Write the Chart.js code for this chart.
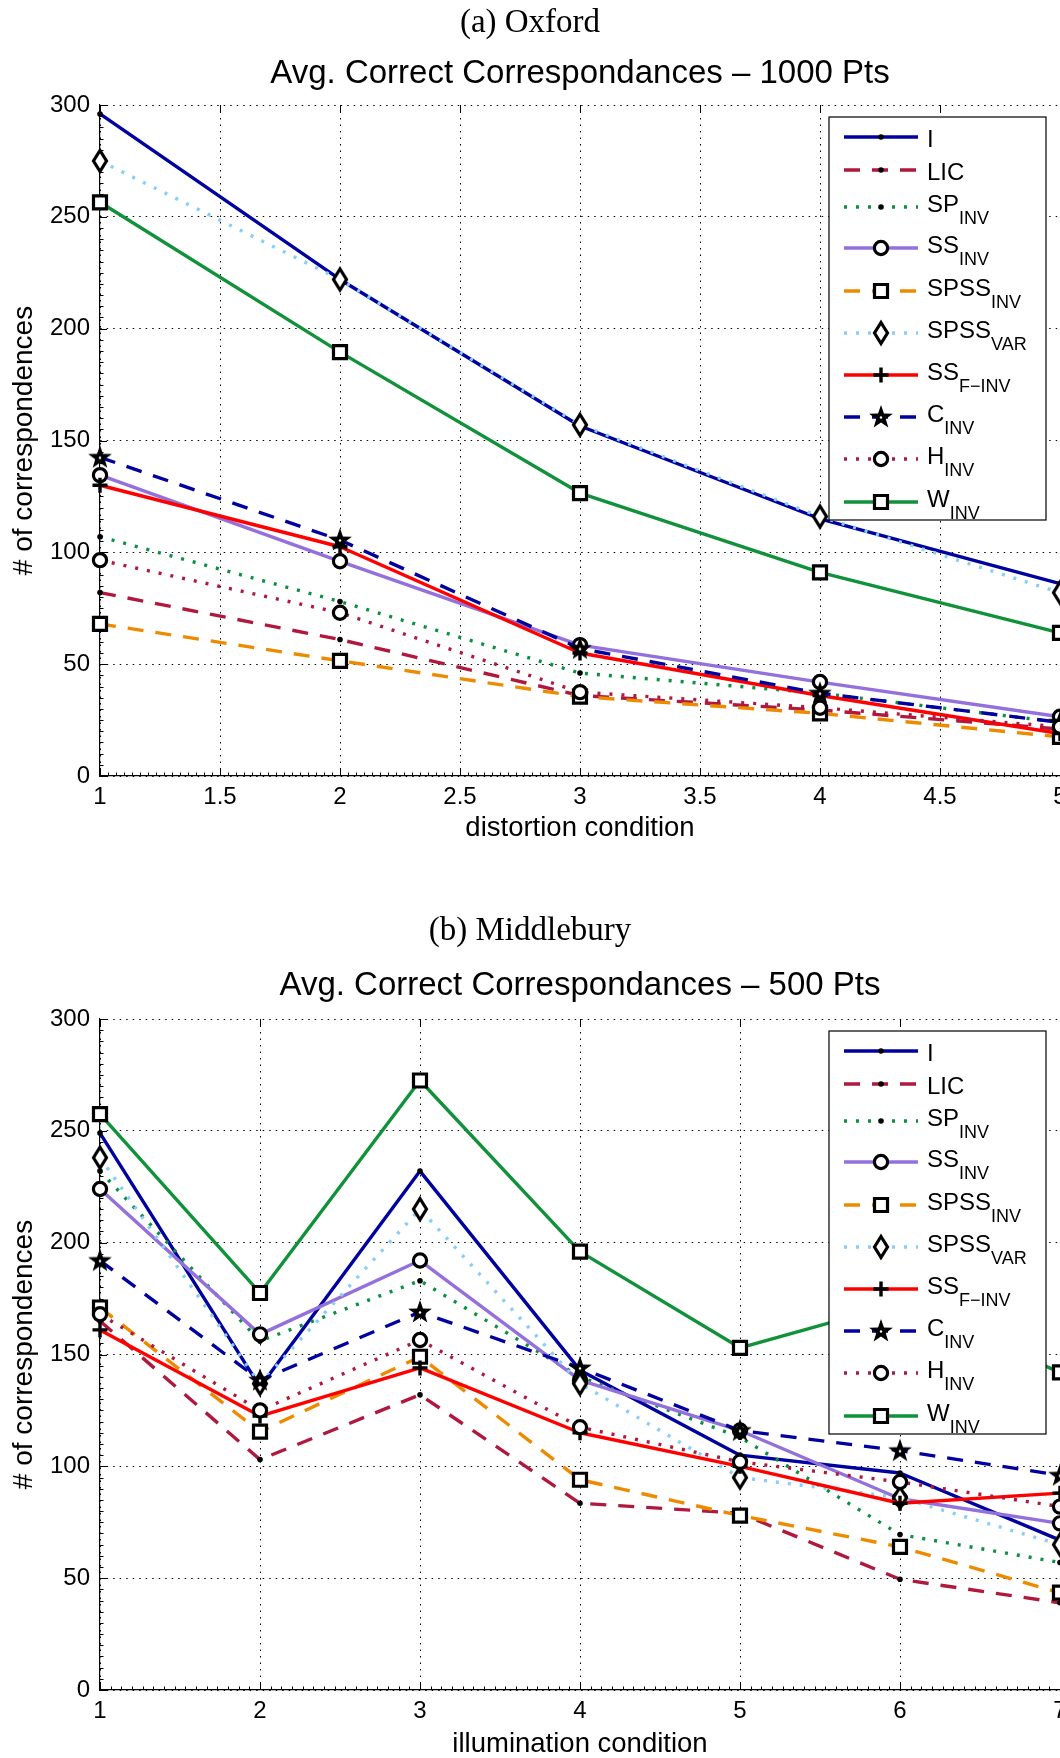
<!DOCTYPE html>
<html>
<head>
<meta charset="utf-8">
<title>Avg. Correct Correspondances</title>
<script src="https://cdn.jsdelivr.net/npm/chart.js@4.4.1/dist/chart.umd.min.js"></script>
<style>
    html, body { margin: 0; padding: 0; background: #fff; }
    body { width: 1060px; height: 1758px; overflow: hidden; position: relative; }
    canvas { position: absolute; left: 0; }
    .caption {
        position: absolute; left: 0; width: 1060px; text-align: center;
        font-family: "Liberation Serif", serif; font-size: 33px; line-height: 36px; color: #000;
    }
</style>
</head>
<body>
<canvas id="oxford" width="1100" height="860" style="top:0px"></canvas>
<canvas id="middlebury" width="1100" height="860" style="top:914px"></canvas>
<div class="caption" style="top:3px">(a) Oxford</div>
<div class="caption" style="top:911px">(b) Middlebury</div>
<script>
// ---- data ----
const yTicks = [0, 50, 100, 150, 200, 250, 300];

const oxfordX = [1, 2, 3, 4, 5];
const oxfordXTicks = [1, 1.5, 2, 2.5, 3, 3.5, 4, 4.5, 5];
const oxfordI = [296, 222, 156.5, 115, 86];
const oxfordLIC = [82, 61, 36, 29.5, 21];
const oxfordSP = [107, 78, 46, 37, 24];
const oxfordSS = [134.5, 96, 58.5, 42, 26.5];
const oxfordSPSSinv = [68, 51.5, 35.5, 28, 17.5];
const oxfordSPSSvar = [275, 222, 157, 116, 82];
const oxfordSSf = [130, 102.5, 55, 36, 19];
const oxfordC = [142.5, 105.5, 57, 37, 24];
const oxfordH = [96.5, 73, 37.5, 30.5, 22];
const oxfordW = [256.5, 189.5, 126.5, 91, 64];

const middX = [1, 2, 3, 4, 5, 6, 7];
const middXTicks = [1, 2, 3, 4, 5, 6, 7];
const middI = [249, 135.5, 232, 143, 105, 97, 67];
const middLIC = [165, 103, 132, 83.5, 79, 49.5, 39];
const middSP = [232, 156, 183, 140, 113, 69.5, 57];
const middSS = [224, 159, 192, 138.5, 116, 85.5, 74.5];
const middSPSSinv = [171, 115.5, 149, 94, 78, 64, 43.5];
const middSPSSvar = [238, 137, 215, 137, 95, 86, 65];
const middSSf = [161, 122.5, 144, 115, 100, 83.5, 88];
const middC = [192, 138.5, 169, 144, 116, 107, 96];
const middH = [168, 125, 156.5, 117.5, 102, 93, 82];
const middW = [257.5, 177.5, 272.5, 196, 153, 173, 142];

const seriesNames = ['I', 'LIC', 'SP', 'SS', 'SPSS', 'SPSS', 'SS', 'C', 'H', 'W'];
const seriesSubs = ['', '', 'INV', 'INV', 'INV', 'VAR', 'F\u2212INV', 'INV', 'INV', 'INV'];

// ---- styles ----
const FONT = '"Liberation Sans", Arial, sans-serif';
const LINE_W = 3.4;
const DASH = [16, 12];
const DOT = [3, 9];
const styles = [
    { color: '#0000A0', dash: [], mark: 'dot' },
    { color: '#B0183E', dash: DASH, mark: 'dot' },
    { color: '#0A9040', dash: DOT, mark: 'dot' },
    { color: '#9370DB', dash: [], mark: 'circle' },
    { color: '#EE8A00', dash: DASH, mark: 'square' },
    { color: '#87CEFA', dash: DOT, mark: 'diamond' },
    { color: '#FF0000', dash: [], mark: 'plus' },
    { color: '#0000A0', dash: DASH, mark: 'star' },
    { color: '#B0183E', dash: DOT, mark: 'circle' },
    { color: '#10913A', dash: [], mark: 'square' }
];

function makeMarker(w, h, draw) {
    const c = document.createElement('canvas');
    c.width = w; c.height = h;
    draw(c.getContext('2d'));
    return c;
}

const diamondMark = makeMarker(22, 32, g => {
    g.beginPath();
    g.moveTo(11, 5.5); g.lineTo(17.5, 16); g.lineTo(11, 26.5); g.lineTo(4.5, 16);
    g.closePath();
    g.fillStyle = '#fff'; g.fill();
    g.lineWidth = 3.2; g.strokeStyle = '#000'; g.lineJoin = 'miter'; g.stroke();
});

const starMark = makeMarker(28, 28, g => {
    g.beginPath();
    for (let k = 0; k < 10; k++) {
        const r = k % 2 ? 5 : 12.5;
        const a = -Math.PI / 2 + k * Math.PI / 5;
        g.lineTo(14 + r * Math.cos(a), 14.5 + r * Math.sin(a));
    }
    g.closePath();
    g.fillStyle = '#000'; g.fill();
    g.beginPath(); g.arc(14, 14.5, 1.2, 0, Math.PI * 2); g.fillStyle = '#fff'; g.fill();
});

function markerOptions(mark) {
    switch (mark) {
        case 'dot': return { pointStyle: 'circle', pointRadius: 2.8, pointBorderWidth: 0, pointBackgroundColor: '#000', pointBorderColor: '#000' };
        case 'circle': return { pointStyle: 'circle', pointRadius: 6.6, pointBorderWidth: 3.2, pointBackgroundColor: '#fff', pointBorderColor: '#000' };
        case 'square': return { pointStyle: 'rect', pointRadius: 9.2, pointBorderWidth: 3.2, pointBackgroundColor: '#fff', pointBorderColor: '#000' };
        case 'plus': return { pointStyle: 'cross', pointRadius: 7.5, pointBorderWidth: 3.4, pointBackgroundColor: '#000', pointBorderColor: '#000' };
        case 'diamond': return { pointStyle: diamondMark, pointRadius: 8, pointBorderWidth: 0, pointBackgroundColor: '#fff', pointBorderColor: '#000' };
        case 'star': return { pointStyle: starMark, pointRadius: 10, pointBorderWidth: 0, pointBackgroundColor: '#000', pointBorderColor: '#000' };
    }
}

// MATLAB style inward tick marks
function insideTicks(xMinor) {
    return {
        id: 'insideTicks',
        beforeDatasetsDraw(chart) {
            const { ctx, chartArea: a, scales: { x, y } } = chart;
            const al = v => Math.round(v) + 0.5;
            ctx.save();
            ctx.setLineDash([]);
            ctx.strokeStyle = '#000';
            ctx.lineWidth = 1;
            ctx.beginPath();
            const xp = x.ticks.map(t => x.getPixelForValue(t.value));
            xp.forEach(px => {
                ctx.moveTo(al(px), a.bottom); ctx.lineTo(al(px), a.bottom - 7);
                ctx.moveTo(al(px), a.top); ctx.lineTo(al(px), a.top + 7);
            });
            for (let k = 0; k < xp.length - 1; k++) {
                const step = (xp[k + 1] - xp[k]) / xMinor;
                for (let m = 1; m < xMinor; m++) {
                    const px = al(xp[k] + m * step);
                    ctx.moveTo(px, a.bottom); ctx.lineTo(px, a.bottom - 3.5);
                }
            }
            const yp = y.ticks.map(t => y.getPixelForValue(t.value));
            yp.forEach(py => { ctx.moveTo(a.left, al(py)); ctx.lineTo(a.left + 7, al(py)); });
            for (let k = 0; k < yp.length - 1; k++) {
                const step = (yp[k + 1] - yp[k]) / 10;
                for (let m = 1; m < 10; m++) {
                    const py = al(yp[k] + m * step);
                    ctx.moveTo(a.left, py); ctx.lineTo(a.left + 3.5, py);
                }
            }
            ctx.stroke();
            ctx.restore();
        }
    };
}

// legend with subscripts, drawn over the plot
const legendRows = [20, 53, 90, 131, 174, 216, 258, 300, 342, 385];
const subLegend = {
    id: 'subLegend',
    afterDatasetsDraw(chart) {
        const { ctx, chartArea: a } = chart;
        const bx = a.right - 231, by = a.top + 12, bw = 217, bh = 403;
        ctx.save();
        ctx.setLineDash([]);
        ctx.fillStyle = '#fff';
        ctx.fillRect(bx, by, bw, bh);
        ctx.strokeStyle = '#000';
        ctx.lineWidth = 1.2;
        ctx.strokeRect(bx, by, bw, bh);
        chart.data.datasets.forEach((ds, i) => {
            const ry = by + legendRows[i];
            ctx.save();
            ctx.beginPath();
            ctx.setLineDash(ds.borderDash);
            ctx.lineCap = 'butt';
            ctx.strokeStyle = ds.borderColor;
            ctx.lineWidth = ds.borderWidth;
            ctx.moveTo(bx + 15, ry);
            ctx.lineTo(bx + 89, ry);
            ctx.stroke();
            ctx.setLineDash([]);
            ctx.fillStyle = ds.pointBackgroundColor;
            ctx.strokeStyle = ds.pointBorderColor;
            ctx.lineWidth = ds.pointBorderWidth;
            Chart.helpers.drawPoint(ctx, {
                pointStyle: ds.pointStyle, radius: ds.pointRadius,
                borderWidth: ds.pointBorderWidth, rotation: 0
            }, bx + 52, ry);
            ctx.restore();

            const main = seriesNames[i], sub = seriesSubs[i];
            ctx.fillStyle = '#000';
            ctx.textAlign = 'left';
            ctx.textBaseline = 'alphabetic';
            ctx.font = '24px ' + FONT;
            ctx.fillText(main, bx + 98, ry + (sub ? 5 : 10));
            if (sub) {
                const w = ctx.measureText(main).width;
                ctx.font = '18px ' + FONT;
                ctx.fillText(sub, bx + 98 + w, ry + 17);
            }
        });
        ctx.restore();
    }
};

function buildChart(id, xs, series, xTicks, xMinor, xTitle, titleText, titleMid, xTitleMid) {
    const datasets = series.map((vals, i) => Object.assign({
        label: seriesNames[i] + seriesSubs[i],
        data: xs.map((x, j) => ({ x: x, y: vals[j] })),
        borderColor: styles[i].color,
        borderWidth: LINE_W,
        borderDash: styles[i].dash,
        borderCapStyle: 'butt',
        borderJoinStyle: 'round',
        fill: false,
        tension: 0,
        clip: false,
        order: series.length - i
    }, markerOptions(styles[i].mark)));

    const titleTop = titleMid - 19.8;
    const xAxisH = xTitleMid - 776 + 16.5;

    return new Chart(document.getElementById(id), {
        type: 'line',
        data: { datasets },
        options: {
            responsive: false,
            animation: false,
            devicePixelRatio: 1,
            layout: { padding: { top: 0, left: 0, right: 40, bottom: 860 - 776 - xAxisH } },
            plugins: {
                legend: { display: false },
                tooltip: { enabled: false },
                title: {
                    display: true,
                    text: titleText,
                    fullSize: false,
                    color: '#000',
                    font: { family: FONT, size: 33, weight: 'normal' },
                    padding: { top: titleTop, bottom: 105 - titleTop - 39.6 }
                }
            },
            scales: {
                x: {
                    type: 'linear',
                    min: xTicks[0],
                    max: xTicks[xTicks.length - 1],
                    afterBuildTicks: s => { s.ticks = xTicks.map(v => ({ value: v })); },
                    afterFit: s => { s.height = xAxisH; },
                    ticks: {
                        color: '#000', font: { family: FONT, size: 24 }, padding: 7,
                        maxRotation: 0, autoSkip: false,
                        callback: v => String(v)
                    },
                    grid: { color: '#000', lineWidth: 1, drawTicks: false },
                    border: { display: true, color: '#000', width: 1.2, dash: [1.5, 5] },
                    title: { display: true, text: xTitle, color: '#000', font: { family: FONT, size: 27.5 }, padding: 0 }
                },
                y: {
                    min: 0,
                    max: 300,
                    afterBuildTicks: s => { s.ticks = yTicks.map(v => ({ value: v })); },
                    afterFit: s => { s.width = 100; },
                    ticks: { color: '#000', font: { family: FONT, size: 24 }, padding: 10, callback: v => String(v) },
                    grid: { color: '#000', lineWidth: 1, drawTicks: false },
                    border: { display: true, color: '#000', width: 1.2, dash: [1.5, 5] },
                    title: { display: true, text: '# of correspondences', color: '#000', font: { family: FONT, size: 28 }, padding: { top: 7, bottom: 0 } }
                }
            }
        },
        plugins: [insideTicks(xMinor), subLegend]
    });
}

buildChart('oxford', oxfordX,
    [oxfordI, oxfordLIC, oxfordSP, oxfordSS, oxfordSPSSinv, oxfordSPSSvar, oxfordSSf, oxfordC, oxfordH, oxfordW],
    oxfordXTicks, 15, 'distortion condition', 'Avg. Correct Correspondances \u2013 1000 Pts', 74, 828);

buildChart('middlebury', middX,
    [middI, middLIC, middSP, middSS, middSPSSinv, middSPSSvar, middSSf, middC, middH, middW],
    middXTicks, 15, 'illumination condition', 'Avg. Correct Correspondances \u2013 500 Pts', 72, 830);
</script>
</body>
</html>
